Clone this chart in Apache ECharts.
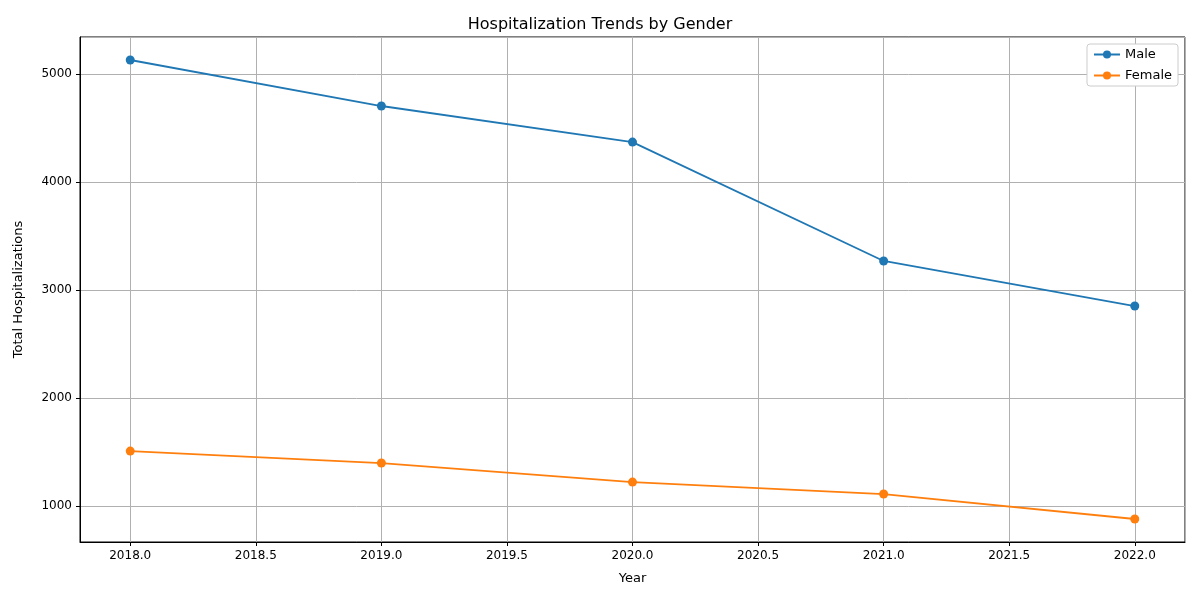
<!DOCTYPE html>
<html><head><meta charset="utf-8">
<script src="https://cdn.jsdelivr.net/npm/echarts@6/dist/echarts.min.js"></script>
</head><body style="margin:0">
<div id="c" style="width:1200px;height:600px"></div>
<script>
const years = [2018, 2019, 2020, 2021, 2022];
const male = [5130, 4704, 4370, 3269, 2852];
const female = [1509, 1398, 1222, 1111, 880];
const chart = echarts.init(document.getElementById('c'));
const font = 'DejaVu Sans';
chart.setOption({
  animation: false,
  textStyle: {fontFamily: font},
  title: {text: 'Hospitalization Trends by Gender', left: 'center', top: 12,
    textStyle: {fontSize: 16, fontWeight: 'normal', color: '#000', fontFamily: font}},
  legend: {right: 22, top: 44, orient: 'vertical', itemWidth: 26, itemHeight: 10, itemGap: 8,
    backgroundColor: '#fff', borderColor: '#ccc', borderWidth: 1, borderRadius: 3, padding: [4, 6],
    textStyle: {fontSize: 13, color: '#000'}, data: ['Male', 'Female']},
  grid: {left: 80, right: 15, top: 37, bottom: 58, show: true, borderColor: '#000', borderWidth: 1},
  xAxis: {type: 'value', min: 2017.8, max: 2022.2, splitNumber: 9, name: 'Year', nameLocation: 'middle', nameGap: 30,
    nameTextStyle: {fontSize: 13, color: '#000'},
    axisLine: {show: true, onZero: false, lineStyle: {color: '#000'}},
    axisTick: {show: true, length: 4, lineStyle: {color: '#000'}},
    axisLabel: {color: '#000', fontSize: 12, showMinLabel: false, showMaxLabel: false, formatter: v => v.toFixed(1)},
    splitLine: {show: true, lineStyle: {color: '#b0b0b0'}}},
  yAxis: {type: 'value', min: 667, max: 5343, name: 'Total Hospitalizations', nameLocation: 'middle', nameGap: 55,
    nameTextStyle: {fontSize: 13, color: '#000'},
    axisLine: {show: true, lineStyle: {color: '#000'}},
    axisTick: {show: true, length: 4, lineStyle: {color: '#000'}},
    axisLabel: {color: '#000', fontSize: 12, showMinLabel: false, showMaxLabel: false, formatter: v => String(v)},
    splitLine: {show: true, lineStyle: {color: '#b0b0b0'}}},
  series: [
    {name: 'Male', type: 'line', data: years.map((y, i) => [y, male[i]]), symbol: 'circle', symbolSize: 9,
      color: '#1f77b4', lineStyle: {width: 1.8}},
    {name: 'Female', type: 'line', data: years.map((y, i) => [y, female[i]]), symbol: 'circle', symbolSize: 9,
      color: '#ff7f0e', lineStyle: {width: 1.8}}
  ]
});
</script></body></html>
